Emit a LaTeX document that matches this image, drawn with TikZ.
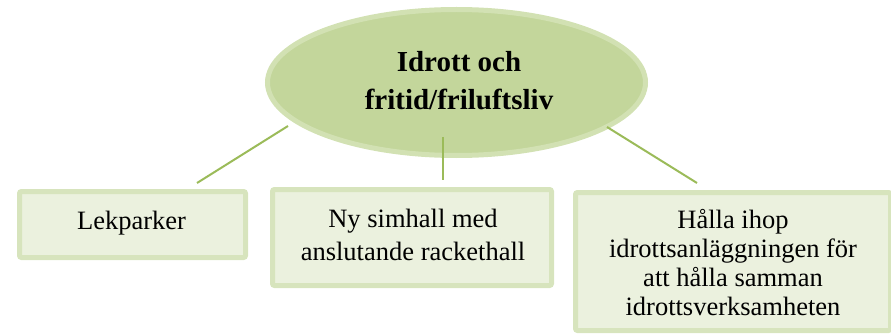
\documentclass[tikz,border=0pt]{standalone}
\usepackage{fontspec}
\setmainfont{Liberation Serif}
\usetikzlibrary{shapes.geometric}
\definecolor{ellfill}{HTML}{C3D69B}
\definecolor{ellring}{HTML}{D2E1B3}
\definecolor{boxfill}{HTML}{EBF1DE}
\definecolor{boxring}{HTML}{D7E4BD}
\definecolor{linkgreen}{HTML}{9BBB59}
\tikzset{
  catbox/.style={draw=boxring, fill=boxfill, line width=5pt, rounded corners=2pt, inner sep=0pt},
  bodytext/.style={align=center, inner sep=0pt, anchor=base},
  link/.style={draw=linkgreen, line width=2pt}
}
\begin{document}
\begin{tikzpicture}[x=1pt, y=-1pt]
\useasboundingbox (0,0) rectangle (891,334);
\clip (0,0) rectangle (891,334);
% central ellipse
\node[ellipse, draw=ellring, fill=ellfill, line width=5pt, minimum width=378pt, minimum height=146pt, inner sep=0pt] (ell) at (456.5,82.5) {};
\node[bodytext, font=\fontsize{29}{38}\selectfont\bfseries] (title) at (459,110) {Idrott och\\fritid/friluftsliv};
% boxes
\node[catbox, minimum width=226pt, minimum height=66pt] (b1) at (132.5,224.5) {};
\node[bodytext, font=\fontsize{26.5}{33}\selectfont] (t1) at (131.5,229) {Lekparker};
\node[catbox, minimum width=279pt, minimum height=96pt] (b2) at (412,237.5) {};
\node[bodytext, font=\fontsize{26.5}{33}\selectfont] (t2) at (413,260) {Ny simhall med\\anslutande rackethall};
\node[catbox, minimum width=315pt, minimum height=138pt] (b3) at (733,261.5) {};
\node[bodytext, font=\fontsize{26.5}{29}\selectfont] (t3) at (733,315) {Hålla ihop\\idrottsanläggningen för\\att hålla samman\\idrottsverksamheten};
% connector end points
\coordinate (l1s) at (288,126);
\coordinate (l1e) at (197,183);
\coordinate (l2s) at (443,137);
\coordinate (l2e) at (443,180);
\coordinate (l3s) at (607,127);
\coordinate (l3e) at (697,183);
\draw[link] (l1s) -- (l1e);
\draw[link] (l2s) -- (l2e);
\draw[link] (l3s) -- (l3e);
\end{tikzpicture}
\end{document}
